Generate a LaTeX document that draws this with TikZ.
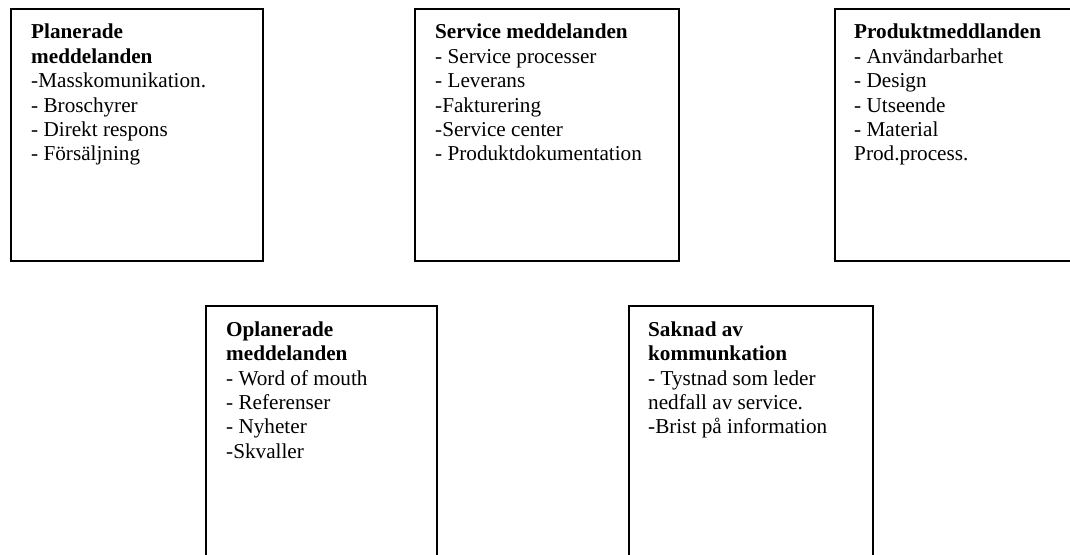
\documentclass[tikz,border=0pt]{standalone}
\usepackage{fontspec}
\setmainfont{Liberation Serif}
\tikzset{
  card/.style={draw=black, line width=1.8pt, rectangle, inner sep=0pt, anchor=north west},
  cardtext/.style={anchor=north west, inner sep=0pt, align=left,
    font=\fontsize{21.2pt}{24.4pt}\selectfont},
}
% strut that fixes the height of the first text line
\newcommand{\toprow}{\rule{0pt}{16pt}}
\begin{document}
\begin{tikzpicture}[x=1pt,y=-1pt]
\clip (0,0) rectangle (1070,554);
\fill[white] (0,0) rectangle (1070,554);

% upper row of boxes
\node[card, minimum width=252pt, minimum height=252pt] (plan) at (10,8) {};
\node[card, minimum width=264pt, minimum height=252pt] (serv) at (414,8) {};
\node[card, minimum width=260pt, minimum height=252pt] (prod) at (834,8) {};

% lower row of boxes (run past the lower edge)
\node[card, minimum width=231pt, minimum height=300pt] (oplan) at (205,305) {};
\node[card, minimum width=244pt, minimum height=300pt] (sakn) at (628,305) {};

\node[cardtext] (plant) at ([shift={(21,14.6)}]plan.north west)
  {\toprow\textbf{Planerade}\\\textbf{meddelanden}\\-Masskomunikation.\\- Broschyrer\\- Direkt respons\\- Försäljning};
\node[cardtext] (servt) at ([shift={(21,14.6)}]serv.north west)
  {\toprow\textbf{Service meddelanden}\\- Service processer\\- Leverans\\-Fakturering\\-Service center\\- Produktdokumentation};
\node[cardtext] (prodt) at ([shift={(20,14.6)}]prod.north west)
  {\toprow\textbf{Produktmeddlanden}\\- Användarbarhet\\- Design\\- Utseende\\- Material\\Prod.process.};
\node[cardtext] (oplant) at ([shift={(21,15.1)}]oplan.north west)
  {\toprow\textbf{Oplanerade}\\\textbf{meddelanden}\\- Word of mouth\\- Referenser\\- Nyheter\\-Skvaller};
\node[cardtext] (saknt) at ([shift={(20,15.1)}]sakn.north west)
  {\toprow\textbf{Saknad av}\\\textbf{kommunkation}\\- Tystnad som leder\\nedfall av service.\\-Brist på information};
\end{tikzpicture}
\end{document}
